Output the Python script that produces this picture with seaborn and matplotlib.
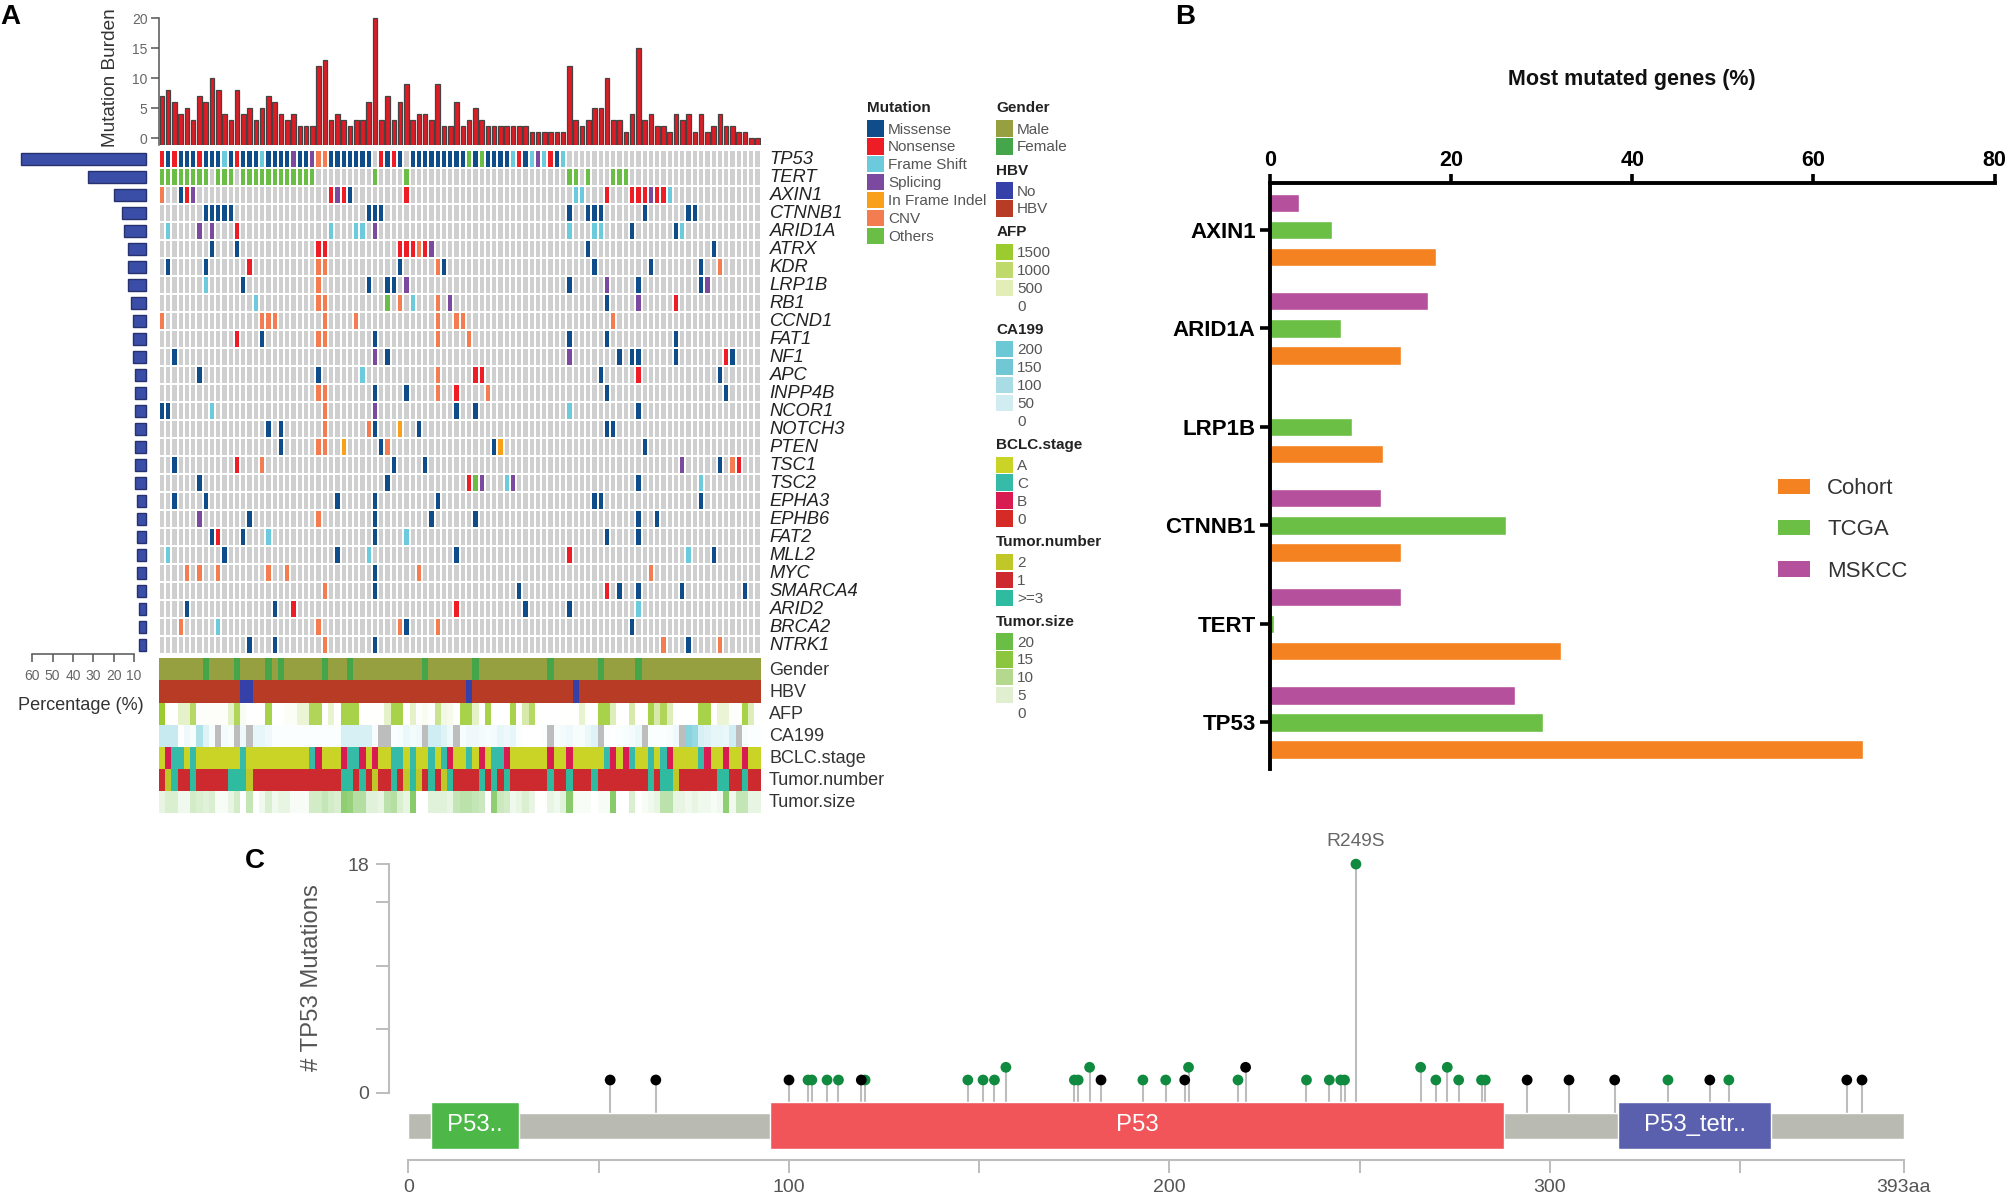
import numpy as np
import pandas as pd
import matplotlib
matplotlib.use("Agg")
import matplotlib.pyplot as plt
from matplotlib.colors import ListedColormap, LinearSegmentedColormap
from matplotlib.patches import Patch
from matplotlib.transforms import ScaledTranslation
import seaborn as sns

W, H = 2008, 1195
sns.set_theme(style="white")
plt.rcParams["font.family"] = ["Liberation Sans", "DejaVu Sans"]

# ---------- Panel A data ----------
genes = ["TP53", "TERT", "AXIN1", "CTNNB1", "ARID1A", "ATRX", "KDR", "LRP1B", "RB1", "CCND1", "FAT1", "NF1", "APC",
         "INPP4B", "NCOR1", "NOTCH3", "PTEN", "TSC1", "TSC2", "EPHA3", "EPHB6", "FAT2", "MLL2", "MYC", "SMARCA4",
         "ARID2", "BRCA2", "NTRK1"]
gene_pct = [65.6, 32.5, 20.0, 15.9, 14.8, 12.8, 12.8, 12.8, 11.6, 10.7, 10.7, 10.7, 9.7, 9.7, 9.7, 9.7, 9.7, 9.7, 9.7,
            8.7, 8.7, 8.7, 8.7, 8.7, 8.7, 7.7, 7.7, 7.7]
burden = [7, 8, 6, 4, 5, 3, 7, 6, 10, 8, 4, 3, 8, 4, 5, 3, 5, 7, 6, 4, 3, 4, 2, 2, 2, 12, 13, 3, 4, 3, 2, 3, 3, 6, 20,
          3, 7, 3, 6, 9, 3, 4, 4, 3, 9, 2, 2, 6, 2, 3, 5, 3, 2, 2, 2, 2, 2, 2, 2, 1, 1, 1, 1, 1, 1, 12, 3, 2, 3, 5, 5,
          10, 3, 3, 1, 4, 15, 3, 4, 2, 2, 1, 4, 3, 4, 1, 4, 1, 2, 4, 2, 2, 1, 1, 0, 0]

m_TP53 = {"N": [0, 2, 6, 12, 35, 37, 57, 62],
          "M": [1, 3, 4, 5, 7, 8, 9, 11, 13, 14, 15, 17, 18, 19, 20, 22, 23, 27, 28, 29, 30, 31, 32, 33, 36, 38, 40, 41,
                42, 43, 44, 45, 46, 47, 48, 50, 52, 53, 54, 55, 58, 63],
          "F": [10, 16, 56, 59, 61, 64], "S": [21, 24, 60], "C": [25, 26], "O": [49, 51]}
m_TERT = {"O": [0, 1, 2, 3, 4, 5, 6, 7, 9, 10, 11, 13, 14, 15, 16, 17, 18, 19, 20, 21, 22, 23, 24, 34, 39, 65, 66, 68,
                72, 73, 74]}
m_AXIN1 = {"C": [0], "M": [3, 30], "N": [4, 27, 29, 39, 71, 75, 76, 77, 79, 80], "S": [5, 28, 78], "F": [66, 67, 81]}
m_CTNNB1 = {"M": [7, 8, 9, 10, 11, 33, 34, 35, 65, 68, 69, 70, 77, 84, 85]}
m_ARID1A = {"F": [1, 27, 31, 32, 65, 69, 70, 83], "S": [6, 8, 34], "N": [12], "M": [75, 82]}
m_ATRX = {"M": [8, 12, 68, 88], "N": [25, 26, 38, 39, 40, 42], "C": [41], "S": [43]}
m_KDR = {"M": [1, 7, 38, 45, 69, 78, 86], "N": [14], "C": [25, 26, 44, 89]}
m_LRP1B = {"F": [7], "M": [13, 33, 36, 37, 65, 76, 86], "C": [25], "S": [39, 71, 87]}
m_RB1 = {"F": [15, 40], "C": [25, 26, 38, 44], "O": [36], "S": [46, 76], "M": [71], "N": [82]}
m_CCND1 = {"C": [0, 16, 17, 18, 26, 31, 44, 47, 48, 72]}
m_FAT1 = {"N": [12], "M": [16, 34, 65, 71, 82], "C": [25, 26, 44, 49]}
m_NF1 = {"M": [2, 36, 73, 75, 76, 82, 91], "S": [34, 65], "N": [90]}
m_APC = {"M": [6, 25, 70, 89], "F": [32], "C": [44], "N": [50, 51, 76]}
m_INPP4B = {"C": [25, 26, 44, 52], "M": [34, 39, 71, 90], "N": [47]}
m_NCOR1 = {"M": [0, 1, 47, 50, 76], "F": [8, 65], "C": [26], "S": [34]}
m_NOTCH3 = {"M": [17, 19, 34, 41, 71, 72], "C": [26, 33], "I": [38]}
m_PTEN = {"M": [19, 35, 53, 77], "C": [25, 26, 36], "I": [29, 54]}
m_TSC1 = {"M": [2, 37, 42, 89], "N": [12, 92], "C": [16, 91], "S": [83]}
m_TSC2 = {"M": [6, 36, 76], "N": [49], "O": [50], "S": [51, 56], "F": [55, 86]}
m_EPHA3 = {"M": [2, 7, 28, 34, 44, 69, 70, 86]}
m_EPHB6 = {"S": [6], "M": [14, 34, 43, 50, 76, 79], "C": [25]}
m_FAT2 = {"M": [8, 13, 34, 71, 76], "N": [9], "F": [17, 39]}
m_MLL2 = {"F": [1, 33, 84], "M": [10, 28, 47, 88], "N": [65]}
m_MYC = {"C": [4, 6, 9, 17, 20, 41, 78], "M": [34]}
m_SMARCA4 = {"C": [26], "M": [34, 57, 73, 76, 83, 93], "N": [71]}
m_ARID2 = {"M": [4, 18, 58, 65], "N": [21, 47], "F": [76]}
m_BRCA2 = {"C": [3, 25, 38, 44], "F": [9], "M": [39, 75]}
m_NTRK1 = {"M": [14, 18, 34, 84], "C": [26, 80, 89]}
mutation_rows = [m_TP53, m_TERT, m_AXIN1, m_CTNNB1, m_ARID1A, m_ATRX, m_KDR, m_LRP1B, m_RB1, m_CCND1, m_FAT1, m_NF1,
                 m_APC, m_INPP4B, m_NCOR1, m_NOTCH3, m_PTEN, m_TSC1, m_TSC2, m_EPHA3, m_EPHB6, m_FAT2, m_MLL2, m_MYC,
                 m_SMARCA4, m_ARID2, m_BRCA2, m_NTRK1]

female_cols = [7, 12, 17, 19, 26, 30, 42, 50, 62, 70, 76]
hbv_no_cols = [13, 14, 49, 66]
afp = [1500, 0, 0, 400, 400, 1100, 40, 40, 40, 40, 40, 400, 1200, 100, 0, 0, 0, 1300, 0, 0, 60, 60, 300, 300, 1200, 1200,
       0, 350, 0, 1300, 1300, 1300, 10, 10, 10, 10, 400, 1300, 1300, 0, 400, 30, 100, 20, 800, 200, 150, 20, 1300, 1300,
       400, 0, 1300, 0, 0, 0, 1300, 0, 600, 1100, 0, 0, 0, 0, 10, 10, 10, 350, 10, 10, 1300, 1300, 500, 10, 10, 600, 10,
       10, 1300, 600, 1200, 500, 0, 0, 0, 0, 1300, 1300, 0, 300, 300, 30, 30, 1300, 500, 0]
N = np.nan
ca199 = [70, 70, 70, 0, 20, 10, 100, 40, 10, N, 15, 10, N, 20, N, 30, 30, 20, 5, 5, 5, 5, 5, 5, 5, 5, 5, 5, 5, 50, 50, 50,
         50, 50, 10, N, N, 5, 10, 25, 15, 20, N, 60, 60, 40, 20, N, 10, 20, 20, 15, 10, 15, 30, 20, 30, 5, 0, 0, 0, 5, N,
         10, 15, 20, 10, 10, 25, 40, N, 5, 0, 5, 10, 15, 25, N, 5, 5, 5, 10, 20, N, 150, 130, 50, 40, 30, 30, 25, 60, N,
         10, 5, 5]
bclc = ["A", "B", "C", "C", "A", "C", "A", "A", "A", "A", "A", "A", "A", "C", "A", "A", "A", "A", "A", "A", "A", "A", "A",
        "A", "C", "B", "A", "A", "A", "B", "C", "C", "B", "A", "B", "A", "A", "C", "C", "A", "C", "A", "A", "C", "A", "C",
        "B", "A", "A", "C", "A", "B", "A", "C", "C", "B", "A", "A", "A", "A", "A", "A", "B", "A", "A", "B", "A", "A", "A",
        "A", "A", "C", "B", "A", "B", "C", "A", "A", "C", "A", "C", "B", "A", "A", "A", "A", "C", "B", "A", "A", "B", "A",
        "A", "B", "A", "A"]
tumor_number = ["1", "2", "3", "1", "1", "3", "1", "1", "1", "1", "1", "3", "3", "3", "2", "1", "1", "1", "1", "1", "1",
                "1", "1", "1", "1", "1", "1", "1", "1", "3", "3", "1", "3", "1", "2", "1", "1", "3", "1", "2", "3", "2",
                "1", "3", "1", "2", "3", "1", "1", "1", "1", "3", "1", "3", "1", "3", "1", "1", "1", "1", "1", "1", "3",
                "1", "1", "3", "1", "1", "1", "3", "1", "1", "1", "1", "1", "1", "1", "1", "3", "1", "3", "3", "2", "1",
                "1", "1", "1", "1", "1", "3", "3", "1", "1", "3", "1", "1"]
tumor_size = [3, 5, 5, 2, 2, 6, 5, 4, 5, 1, 1, 3, 6, 0, 8, 0, 2, 5, 2, 3, 3, 1, 1, 1, 6, 6, 8, 6, 5, 15, 14, 10, 10, 4, 4,
              3, 9, 10, 5, 3, 16, 0, 0, 4, 4, 4, 3, 8, 9, 9, 8, 7, 0, 15, 7, 6, 2, 3, 5, 3, 0, 0, 3, 2, 4, 16, 1, 1, 1, 0,
              1, 1, 16, 0, 0, 5, 0, 1, 2, 3, 9, 9, 3, 3, 2, 3, 2, 2, 1, 2, 15, 2, 8, 8, 3, 3]

mut_codes = ["M", "N", "F", "S", "I", "C", "O"]
mut_names = ["Missense", "Nonsense", "Frame Shift", "Splicing", "In Frame Indel", "CNV", "Others"]
mut_colors = ["#0F4C8A", "#EE1C25", "#6BCBDD", "#7B4AA0", "#F9A01B", "#F47C51", "#6ABD45"]
gender_names, gender_colors = ["Male", "Female"], ["#96A040", "#45A54B"]
hbv_names, hbv_colors = ["No", "HBV"], ["#3540A8", "#B73B25"]
afp_names, afp_colors = ["1500", "1000", "500", "0"], ["#9CCB2F", "#BFDA6A", "#E2EDB8", "#FFFFFF"]
ca_names, ca_colors = ["200", "150", "100", "50", "0"], ["#6CC8D5", "#72C7D4", "#A9DCE4", "#D2EDF2", "#FFFFFF"]
bclc_names, bclc_colors = ["A", "C", "B", "0"], ["#C9D427", "#37BBA9", "#D81B50", "#D62A26"]
tn_names, tn_colors = ["2", "1", ">=3"], ["#BFC729", "#CC2A2E", "#2FBBA0"]
ts_names, ts_colors = ["20", "15", "10", "5", "0"], ["#6BBE45", "#8CC63F", "#B3D88E", "#DFEFD0", "#FFFFFF"]

# ---------- Panel B data ----------
top_genes = ["AXIN1", "ARID1A", "LRP1B", "CTNNB1", "TERT", "TP53"]
cohort_pct = [18.4, 14.5, 12.5, 14.5, 32.2, 65.5]
tcga_pct = [6.9, 7.9, 9.1, 26.1, 0.5, 30.2]
mskcc_pct = [3.2, 17.5, np.nan, 12.3, 14.5, 27.1]
cohort_colors = {"Cohort": "#F58220", "TCGA": "#6CBF45", "MSKCC": "#B5509C"}

# ---------- Panel C data ----------
mut_pos_green = [105, 106, 110, 113, 120, 147, 151, 154, 157, 175, 176, 179, 193, 199, 205, 218, 236, 242, 245, 246, 249,
                 266, 270, 273, 276, 282, 283, 331, 347]
mut_cnt_green = [1, 1, 1, 1, 1, 1, 1, 1, 2, 1, 1, 2, 1, 1, 2, 1, 1, 1, 1, 1, 18, 2, 1, 2, 1, 1, 1, 1, 1]
mut_pos_black = [53, 65, 100, 119, 182, 204, 220, 294, 305, 317, 342, 378, 382]
mut_cnt_black = [1, 1, 1, 1, 1, 1, 2, 1, 1, 1, 1, 1, 1]
domain_names = ["P53..", "P53", "P53_tetr.."]
domain_start = [6, 95, 318]
domain_end = [29, 288, 358]
domain_colors = ["#4DB848", "#F1555A", "#5A60AE"]
protein_len = 393

# ---------- helpers ----------
fig = plt.figure(figsize=(W / 100, H / 100), dpi=100, facecolor="white")


def ax_px(x0, y0, x1, y1):
    return fig.add_axes([x0 / W, 1 - y1 / H, (x1 - x0) / W, (y1 - y0) / H])


def nudge_up(labels, px):
    for t in labels:
        t.set_transform(t.get_transform() + ScaledTranslation(0, px / 100, fig.dpi_scale_trans))


GRID_L, GRID_R = 158.7, 760.7
n_samples = len(burden)

# ---------- Burden bars ----------
ax_b = ax_px(GRID_L, 10, GRID_R, 144.7)
sns.barplot(x=list(range(n_samples)), y=burden, ax=ax_b, color="#E01B26", saturation=1, width=0.73,
            edgecolor="#444444", linewidth=0.9)
for p in ax_b.patches:
    p.set_height(p.get_height() + 1.07)
    p.set_y(-1.07)
ax_b.set_xlim(-0.5, n_samples - 0.5)
ax_b.set_ylim(-1.07, 21.38)
ax_b.set_yticks([0, 5, 10, 15, 20])
ax_b.tick_params(axis="y", length=6, width=1.1, color="#555555", labelsize=10, labelcolor="#666666", left=True, pad=2)
ax_b.set_xticks([])
for s in ["top", "right", "bottom"]:
    ax_b.spines[s].set_visible(False)
ax_b.spines["left"].set_color("#555555")
ax_b.spines["left"].set_linewidth(1.1)
ax_b.spines["left"].set_bounds(-1.07, 20)
ax_b.set_ylabel("")
fig.text(111 / W, 1 - 78 / H, "Mutation Burden", rotation=90, ha="center", va="center", fontsize=13.7, color="#333333")

# ---------- Gene percent bars ----------
ax_p = ax_px(0, 150, 154.3, 654)
sns.barplot(x=gene_pct, y=genes, orient="h", ax=ax_p, color="#3A4EA8", saturation=1, width=0.63,
            edgecolor="#27316E", linewidth=1.0)
for p in ax_p.patches:
    p.set_width(p.get_width() - 4)
    p.set_x(4)
ax_p.set_xlim(75.9, 0)
ax_p.set_ylim(len(genes) - 0.5, -0.5)
ax_p.set_yticks([])
ax_p.set_ylabel("")
ax_p.set_xticks([10, 20, 30, 40, 50, 60])
ax_p.tick_params(axis="x", length=6, width=1.1, color="#555555", labelsize=10, labelcolor="#666666", bottom=True, pad=5)
for s in ["top", "right", "left"]:
    ax_p.spines[s].set_visible(False)
ax_p.spines["bottom"].set_bounds(10, 60)
ax_p.spines["bottom"].set_color("#555555")
ax_p.spines["bottom"].set_linewidth(1.1)
ax_p.patch.set_alpha(0)
fig.text(80.5 / W, 1 - 705.5 / H, "Percentage (%)", ha="center", va="center", fontsize=13.1, color="#333333")

# ---------- Mutation heatmap ----------
matrix = np.zeros((len(genes), n_samples), dtype=int)
for row, events in enumerate(mutation_rows):
    for code, cols in events.items():
        matrix[row, cols] = mut_codes.index(code) + 1
ax_h = ax_px(GRID_L, 150, GRID_R, 654)
sns.heatmap(pd.DataFrame(matrix, index=genes), ax=ax_h, cmap=ListedColormap(["#CFCFCF"] + mut_colors), vmin=-0.5, vmax=7.5,
            cbar=False, linewidths=1.15, linecolor="white", xticklabels=False, yticklabels=genes)
ax_h.yaxis.tick_right()
ax_h.tick_params(axis="y", length=0, pad=6.5, labelsize=13.2, labelrotation=0, labelcolor="#222222")
for t in ax_h.get_yticklabels():
    t.set_fontstyle("italic")
    t.set_rotation(0)
nudge_up(ax_h.get_yticklabels(), 1.3)

# ---------- Annotation tracks ----------
track_names = ["Gender", "HBV", "AFP", "CA199", "BCLC.stage", "Tumor.number", "Tumor.size"]
white_to = lambda c: LinearSegmentedColormap.from_list("w", ["#FFFFFF", c])
gender_vals = [1 if i in female_cols else 0 for i in range(n_samples)]
hbv_vals = [0 if i in hbv_no_cols else 1 for i in range(n_samples)]
bclc_vals = [bclc_names.index(v) for v in bclc]
tn_vals = [tn_names.index(">=3" if v == "3" else v) for v in tumor_number]
tracks = [
    (gender_vals, ListedColormap(gender_colors), -0.5, 1.5),
    (hbv_vals, ListedColormap(hbv_colors), -0.5, 1.5),
    (afp, white_to("#9CCB2F"), 0, 1500),
    (ca199, white_to("#5FC4D3"), 0, 200),
    (bclc_vals, ListedColormap(bclc_colors), -0.5, 3.5),
    (tn_vals, ListedColormap(tn_colors), -0.5, 2.5),
    (tumor_size, white_to("#6BBE45"), 0, 20),
]
TRACK_TOP, TRACK_STEP = 658.3, 22.1
for i, (name, (vals, cmap, vmin, vmax)) in enumerate(zip(track_names, tracks)):
    ax_t = ax_px(GRID_L, TRACK_TOP + i * TRACK_STEP, GRID_R, TRACK_TOP + (i + 1) * TRACK_STEP)
    ax_t.set_facecolor("#BDBDBD")
    sns.heatmap(pd.DataFrame([vals], index=[name], dtype=float), ax=ax_t, cmap=cmap, vmin=vmin, vmax=vmax, cbar=False,
                xticklabels=False, yticklabels=[name])
    ax_t.yaxis.tick_right()
    ax_t.tick_params(axis="y", length=0, pad=6, labelsize=13, labelcolor="#333333", labelrotation=0)
    nudge_up(ax_t.get_yticklabels(), 1.3)

# ---------- Panel A legends ----------
LEG_FS = 11
leg_px = LEG_FS / 0.72


def swatch_legend(names, colors, x, first_center, title, title_y):
    handles = [Patch(facecolor=c, edgecolor="none") for c in colors]
    top = first_center - 9.2
    fig.legend(handles, names, loc="upper left", bbox_to_anchor=(x / W, 1 - top / H), bbox_transform=fig.transFigure,
               frameon=False, fontsize=LEG_FS, borderpad=0, borderaxespad=0, handlelength=16.3 / leg_px,
               handleheight=1.265, handletextpad=4.4 / leg_px, labelspacing=0.105, labelcolor="#555555")
    fig.text(x / W, 1 - title_y / H, title, fontweight="bold", fontsize=LEG_FS, color="#222222", ha="left", va="center")


swatch_legend(mut_names, mut_colors, 867.3, 129.5, "Mutation", 108.3)
swatch_legend(gender_names, gender_colors, 996.3, 129.5, "Gender", 108.3)
swatch_legend(hbv_names, hbv_colors, 996.3, 191.5, "HBV", 170.7)
swatch_legend(afp_names, afp_colors, 996.3, 253.2, "AFP", 232)
swatch_legend(ca_names, ca_colors, 996.3, 350.3, "CA199", 330)
swatch_legend(bclc_names, bclc_colors, 996.3, 465.7, "BCLC.stage", 444.7)
swatch_legend(tn_names, tn_colors, 996.3, 563, "Tumor.number", 542.3)
swatch_legend(ts_names, ts_colors, 996.3, 642.5, "Tumor.size", 622)

# ---------- Panel B ----------
df_b = pd.DataFrame({"gene": top_genes, "Cohort": cohort_pct, "TCGA": tcga_pct, "MSKCC": mskcc_pct}).melt(
    id_vars="gene", var_name="study", value_name="pct")
ax_c = ax_px(1269.8, 182.6, 1994.5, 768.6)
sns.barplot(data=df_b, x="pct", y="gene", hue="study", order=top_genes, hue_order=["MSKCC", "TCGA", "Cohort"],
            palette=cohort_colors, orient="h", ax=ax_c, width=0.826, gap=0.32, saturation=1, legend=False)
ax_c.set_xlim(0, 80)
ax_c.set_ylim(5.469, -0.48)
ax_c.set_xticks([0, 20, 40, 60, 80])
ax_c.xaxis.tick_top()
ax_c.set_xlabel("")
ax_c.set_ylabel("")
ax_c.tick_params(axis="x", length=6.2, width=2.6, color="black", labelsize=15.5, pad=2, top=True, bottom=False)
ax_c.tick_params(axis="y", length=7.2, width=2.6, color="black", labelsize=16, pad=3, left=True)
for t in ax_c.get_xticklabels() + ax_c.get_yticklabels():
    t.set_fontweight("bold")
    t.set_color("black")
for s in ["bottom", "right"]:
    ax_c.spines[s].set_visible(False)
for s in ["top", "left"]:
    ax_c.spines[s].set_linewidth(2.8)
    ax_c.spines[s].set_color("black")
fig.text(1631.6 / W, 1 - 79.6 / H, "Most mutated genes (%)", ha="center", va="center", fontweight="bold", fontsize=15.5,
         color="#111111")
b_handles = [Patch(facecolor=cohort_colors[k], edgecolor="none") for k in ["Cohort", "TCGA", "MSKCC"]]
fig.legend(b_handles, ["Cohort", "TCGA", "MSKCC"], loc="center left", bbox_to_anchor=(1778 / W, 1 - 530 / H),
           bbox_transform=fig.transFigure, frameon=False, fontsize=16, labelcolor="#333333", borderpad=0, borderaxespad=0,
           handlelength=1.44, handleheight=0.68, handletextpad=0.78, labelspacing=0.91)

# ---------- Panel C ----------
AA0, AA_PX = 408.5, 3.805
Y0, Y_PX = 1092.7, 12.7
C_L, C_R, C_T, C_B = 389.5, 1920.0, 850.0, 1160.0
ax_l = ax_px(C_L, C_T, C_R, C_B)
ax_l.set_xlim((C_L - AA0) / AA_PX, (C_R - AA0) / AA_PX)
ax_l.set_ylim((Y0 - C_B) / Y_PX, (Y0 - C_T) / Y_PX)
px2y = lambda y: (Y0 - y) / Y_PX
stem_base = px2y(1113.3)
ax_l.vlines(mut_pos_green + mut_pos_black, stem_base, mut_cnt_green + mut_cnt_black, color="#BDBDBD", linewidth=1.5, zorder=1)
backbone_h = px2y(1113.3) - px2y(1139)
ax_l.barh(px2y(1126.15), protein_len, height=backbone_h, left=0, color="#B9BBB3", zorder=2)
domain_h = px2y(1101.5) - px2y(1149)
for name, a, b, c in zip(domain_names, domain_start, domain_end, domain_colors):
    ax_l.barh(px2y(1125.25), b - a, height=domain_h, left=a, color=c, zorder=3)
    ax_l.text((a + b) / 2, px2y(1125), name, color="white", fontsize=17.2, ha="center", va="center", zorder=4)
df_l = pd.DataFrame({
    "pos": mut_pos_green + mut_pos_black,
    "count": mut_cnt_green + mut_cnt_black,
    "kind": ["green"] * len(mut_pos_green) + ["black"] * len(mut_pos_black)})
sns.scatterplot(data=df_l, x="pos", y="count", hue="kind", palette={"green": "#0F8A3F", "black": "#000000"}, s=60,
                linewidth=0, ax=ax_l, legend=False, zorder=5, clip_on=False)
ax_l.text(249, 19.75, "R249S", color="#666666", fontsize=13.8, ha="center", va="center", clip_on=False)
ax_l.set_xlabel("")
ax_l.set_ylabel("")
ax_l.set_xticks([0, 50, 100, 150, 200, 250, 300, 350, 393])
ax_l.set_xticklabels(["0", "", "100", "", "200", "", "300", "", "393aa"])
ax_l.set_yticks([0, 5, 10, 15, 18])
ax_l.set_yticklabels(["0", "", "", "", "18"])
ax_l.tick_params(axis="x", length=9.6, width=1.4, color="#BDBDBD", labelsize=14, labelcolor="#555555", bottom=True, pad=4)
ax_l.tick_params(axis="y", length=9.6, width=1.4, color="#BDBDBD", labelsize=14, labelcolor="#555555", left=True, pad=5)
for s in ["top", "right"]:
    ax_l.spines[s].set_visible(False)
ax_l.spines["left"].set_bounds(0, 18)
ax_l.spines["bottom"].set_bounds(0, protein_len)
for s in ["left", "bottom"]:
    ax_l.spines[s].set_color("#BDBDBD")
    ax_l.spines[s].set_linewidth(1.5)
ax_l.patch.set_alpha(0)
fig.text(312 / W, 1 - 978 / H, "# TP53 Mutations", rotation=90, ha="center", va="center", fontsize=17.2, color="#555555")

# ---------- Panel letters ----------
for letter, x, y in [("A", 10, 17), ("B", 1185, 17), ("C", 255, 861)]:
    fig.text(x / W, 1 - y / H, letter, ha="center", va="center", fontweight="bold", fontsize=20, color="black")

fig.savefig("out.png", dpi=100, facecolor="white")
